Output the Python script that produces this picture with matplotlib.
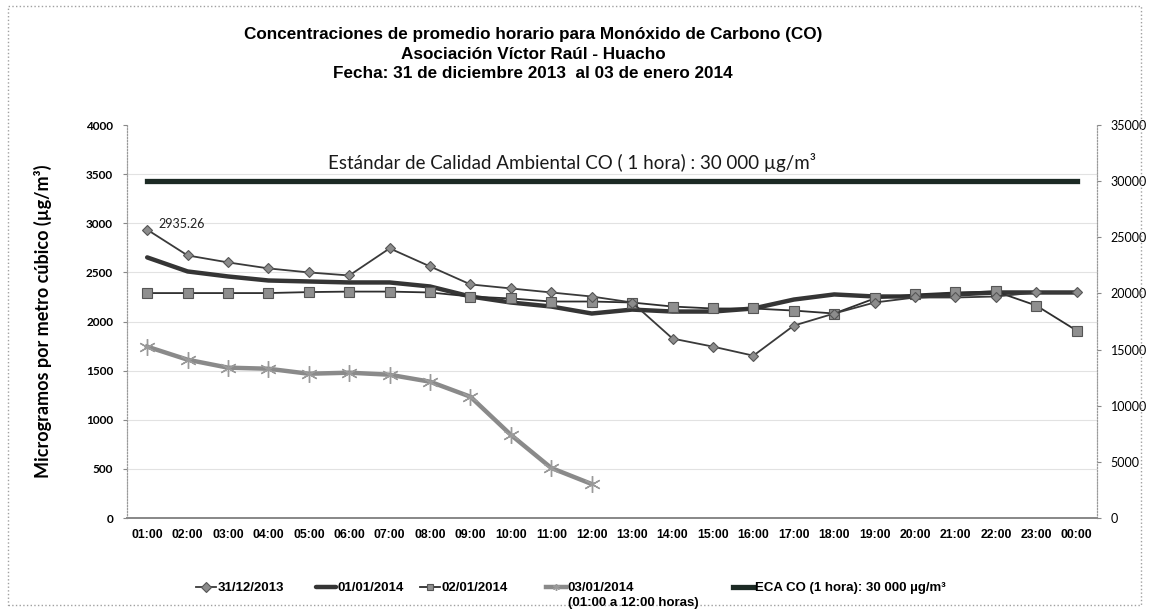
import numpy as np
import matplotlib.pyplot as plt
from matplotlib.patches import Rectangle


hours = ['01:00', '02:00', '03:00', '04:00', '05:00', '06:00', '07:00', '08:00',
         '09:00', '10:00', '11:00', '12:00', '13:00', '14:00', '15:00', '16:00',
         '17:00', '18:00', '19:00', '20:00', '21:00', '22:00', '23:00', '00:00']

d31 = [2935.26, 2673, 2602, 2541, 2500, 2469, 2745, 2561, 2378, 2337, 2296, 2255,
       2194, 1827, 1745, 1653, 1959, 2082, 2194, 2245, 2245, 2255, 2296, 2296]
d01 = [2653, 2510, 2459, 2418, 2408, 2398, 2398, 2357, 2255, 2194, 2153, 2082,
       2122, 2102, 2102, 2133, 2224, 2276, 2255, 2255, 2276, 2296, 2296, 2296]
d02 = [2290, 2290, 2290, 2290, 2300, 2305, 2305, 2296, 2255, 2235, 2204, 2204,
       2194, 2153, 2133, 2133, 2112, 2082, 2235, 2276, 2296, 2306, 2163, 1908]
d03 = [1745, 1612, 1531, 1520, 1469, 1480, 1459, 1388, 1235, 847, 510, 347]
eca = [30000] * 24

labels = ['31/12/2013', '01/01/2014', '02/01/2014', '03/01/2014',
          'ECA CO (1 hora): 30 000 µg/m³']
label_note = '(01:00 a 12:00 horas)'

x = np.arange(len(hours))

fig = plt.figure(figsize=(11.51, 6.11), dpi=100)
ax = fig.add_axes([0.1103, 0.152, 0.8427, 0.6434])
ax2 = ax.twinx()

# gridlines
for v in range(500, 4000, 500):
    ax.axhline(v, color='#e2e2e2', lw=0.8, zorder=0)

l1, = ax.plot(x, d31, color='#3a3a3a', lw=1.3, marker='D', ms=5.5,
              mfc='#8c8c8c', mec='#555555', mew=0.8, zorder=4)
l2, = ax.plot(x, d01, color='#353535', lw=3.2, solid_capstyle='round', zorder=3)
l3, = ax.plot(x, d02, color='#2e2e2e', lw=1.3, marker='s', ms=7,
              mfc='#8f8f8f', mec='#555555', mew=0.8, zorder=3)
l4, = ax.plot(x[:len(d03)], d03, color='#8a8a8a', lw=3.2, marker=(6, 2, 0), ms=12,
              mec='#9a9a9a', mew=1.0, zorder=3)
l5, = ax2.plot(x, eca, color='#1c2a24', lw=3.8)

ax.annotate('2935.26', (x[0], d31[0]), xytext=(8, 1), textcoords='offset points',
            fontsize=9, family='Lato', color='#222222')
ax2.text(10.5, 31650, 'Estándar de Calidad Ambiental CO ( 1 hora) : 30 000 µg/m³',
         ha='center', va='center', fontsize=13.5, family='Lato', color='#1a1a1a')

ax.set_xlim(-0.5, len(hours) - 0.5)
ax.set_ylim(0, 4000)
ax2.set_ylim(0, 35000)
ax.set_xticks(x)
ax.set_xticklabels(hours, fontsize=8.8, fontweight='bold', family='Liberation Sans')
ax.set_yticks(range(0, 4001, 500))
ax.set_yticklabels([str(v) for v in range(0, 4001, 500)], fontsize=8.5,
                   fontweight='bold', family='Lato')
ax2.set_yticks(range(0, 35001, 5000))
ax2.set_yticklabels([str(v) for v in range(0, 35001, 5000)], fontsize=9, family='Lato')
ax.tick_params(axis='x', length=0, pad=8)
ax.tick_params(axis='y', length=3, pad=7, color='#888888')
ax2.tick_params(axis='y', length=3, pad=7, color='#888888')

for a in (ax, ax2):
    a.spines['top'].set_visible(False)
    a.spines['left'].set_color('#9a9a9a')
    a.spines['right'].set_color('#9a9a9a')
    a.spines['bottom'].set_color('#8a8a8a')
    a.spines['bottom'].set_linewidth(1.4)
    a.spines['left'].set_linestyle(':')
    a.spines['right'].set_linestyle(':')

ax.set_ylabel('Microgramos por metro cúbico (µg/m³)', fontsize=13, fontweight='bold',
              family='Lato', labelpad=24)

title_lines = ['Concentraciones de promedio horario para Monóxido de Carbono (CO)',
               'Asociación Víctor Raúl - Huacho',
               'Fecha: 31 de diciembre 2013  al 03 de enero 2014']
for i, t in enumerate(title_lines):
    fig.text(0.463, 0.944 - i * 0.0325, t, ha='center', va='center', fontsize=12.3,
             fontweight='bold', family='Liberation Sans')

# legend entries placed one by one like the original
handles = [l1, l2, l3, l4, l5]
leg_x = [196, 316, 420, 546, 733]
for h, lab, lx in zip(handles, labels, leg_x):
    lg = fig.legend([h], [lab], loc='center left', bbox_to_anchor=(lx / 1151, 1 - 588 / 611),
                    frameon=False, handlelength=1.5, handletextpad=0.15, borderpad=0,
                    borderaxespad=0,
                    prop={'family': 'Liberation Sans', 'size': 9.5, 'weight': 'bold'})
    for lh in lg.legend_handles:
        lh.set_markersize(5)
fig.text(568 / 1151, 1 - 603 / 611, label_note, ha='left', va='center',
         fontsize=9.5, fontweight='bold', family='Liberation Sans')

fig.patches.append(Rectangle((8 / 1151, 6 / 611), 1133 / 1151, 599 / 611,
                             transform=fig.transFigure, fill=False, ec='#a0a0a0',
                             lw=1, ls=':'))

plt.savefig('out.png', dpi=100)
